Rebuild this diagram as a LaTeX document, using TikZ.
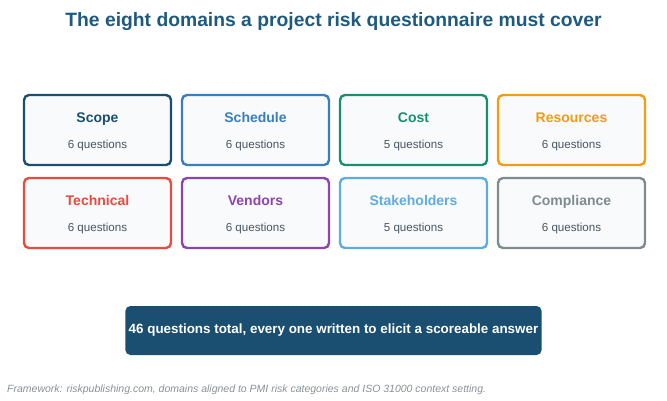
\documentclass[tikz,border=0pt]{standalone}
\usepackage{fontspec}
\setmainfont{Liberation Sans}
\usetikzlibrary{positioning}

\definecolor{titleblue}{HTML}{1F5A7E}
\definecolor{scopec}{HTML}{1B4F72}
\definecolor{schedc}{HTML}{3A7EBF}
\definecolor{costc}{HTML}{17906F}
\definecolor{resc}{HTML}{F39C12}
\definecolor{techc}{HTML}{E74C3C}
\definecolor{vendc}{HTML}{8E44AD}
\definecolor{stakec}{HTML}{5DADE2}
\definecolor{compc}{HTML}{7F8C8D}
\definecolor{boxfill}{HTML}{F8FAFC}
\definecolor{countgray}{HTML}{4A5560}
\definecolor{notegray}{HTML}{8A9097}

\begin{document}
\begin{tikzpicture}[
  x=1pt, y=-1pt,
  domainbox/.style={draw, line width=2.4pt, fill=boxfill, rounded corners=5pt, minimum width=147pt, minimum height=70pt},
  dname/.style={anchor=base, font=\fontsize{14}{16}\selectfont\bfseries},
  dcount/.style={anchor=base, font=\fontsize{11.6}{13}\selectfont, text=countgray},
  total/.style={fill=scopec, rounded corners=5pt, minimum width=415pt, minimum height=49pt, text=white, font=\fontsize{13.4}{16}\selectfont\bfseries}
]
  \useasboundingbox (0,0) rectangle (667,400);

  % Title
  \node[font=\fontsize{19.3}{23}\selectfont\bfseries, text=titleblue] (title) at (333.5,21.5) {The eight domains a project risk questionnaire must cover};

  % First row
  \node[domainbox, draw=scopec] (scope) at (97.5,130) {};
  \node[dname, text=scopec] at (97.5,122.5) {Scope};
  \node[dcount] at (97.5,148.5) {6 questions};

  \node[domainbox, draw=schedc] (sched) at (255.5,130) {};
  \node[dname, text=schedc] at (255.5,122.5) {Schedule};
  \node[dcount] at (255.5,148.5) {6 questions};

  \node[domainbox, draw=costc] (cost) at (413.5,130) {};
  \node[dname, text=costc] at (413.5,122.5) {Cost};
  \node[dcount] at (413.5,148.5) {5 questions};

  \node[domainbox, draw=resc] (res) at (571.5,130) {};
  \node[dname, text=resc] at (571.5,122.5) {Resources};
  \node[dcount] at (571.5,148.5) {6 questions};

  % Second row
  \node[domainbox, draw=techc] (tech) at (97.5,213) {};
  \node[dname, text=techc] at (97.5,205.5) {Technical};
  \node[dcount] at (97.5,231.5) {6 questions};

  \node[domainbox, draw=vendc] (vend) at (255.5,213) {};
  \node[dname, text=vendc] at (255.5,205.5) {Vendors};
  \node[dcount] at (255.5,231.5) {6 questions};

  \node[domainbox, draw=stakec] (stake) at (413.5,213) {};
  \node[dname, text=stakec] at (413.5,205.5) {Stakeholders};
  \node[dcount] at (413.5,231.5) {5 questions};

  \node[domainbox, draw=compc] (comp) at (571.5,213) {};
  \node[dname, text=compc] at (571.5,205.5) {Compliance};
  \node[dcount] at (571.5,231.5) {6 questions};

  % Total banner
  \node[total] (sum) at (333.5,330.5) {46 questions total, every one written to elicit a scoreable answer};

  % Source note
  \node[anchor=west, inner sep=0pt, font=\fontsize{10.5}{12}\selectfont\itshape, text=notegray] (note) at (7,389.5) {Framework: riskpublishing.com, domains aligned to PMI risk categories and ISO 31000 context setting.};
\end{tikzpicture}
\end{document}
